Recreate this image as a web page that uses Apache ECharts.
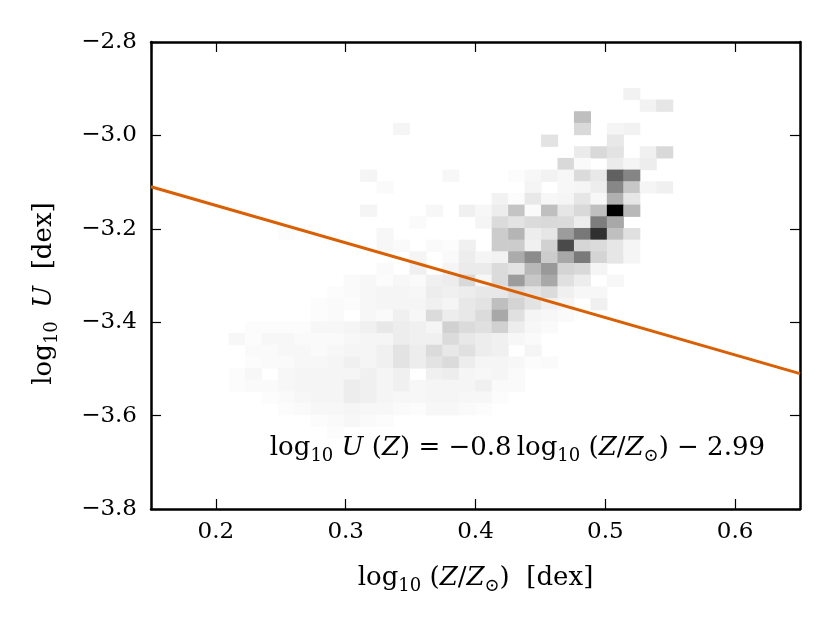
<!DOCTYPE html>
<html>
<head>
<meta charset="utf-8">
<script src="https://cdn.jsdelivr.net/npm/echarts@6/dist/echarts.min.js"></script>
<style>html,body{margin:0;padding:0;background:#fff}#chart{width:831px;height:623px}</style>
</head>
<body>
<div id="chart"></div>
<script>
// ---- 2D histogram (relative counts, max = 100) ----
// bin geometry (data units)
const xEdgeStart = 0.18436;   // left edge of column 0, log10(Z/Zsun)
const xBinWidth = 0.012673;
const yEdgeTop = -2.8482;     // top edge of row 0, log10 U
const yBinHeight = 0.025;
// rows from top (high U) to bottom (low U), 30 columns each
const histCounts = [
  [0,0,0,0,0,0,0,0,0,0, 0,0,0,0,0,0,0,0,0,0, 0,0,0,0,0,0,0,0,0,0],
  [0,0,0,0,0,0,0,0,0,0, 0,0,0,0,0,0,0,0,0,0, 0,0,0,0,0,0,0,0,0,0],
  [0,0,0,0,0,0,0,0,0,0, 0,0,0,0,0,0,0,0,0,0, 0,0,0,0,0,0,5,0,0,0],
  [0,0,0,0,0,0,0,0,0,0, 0,0,0,0,0,0,0,0,0,0, 0,0,0,0,0,0,0,5,10,0],
  [0,0,0,0,0,0,0,0,0,0, 0,0,0,0,0,0,0,0,0,0, 0,0,0,25,0,0,0,0,0,0],
  [0,0,0,0,0,0,0,0,0,0, 0,0,4,0,0,0,0,0,0,0, 0,0,0,15,0,4,5,0,0,0],
  [0,0,0,0,0,0,0,0,0,0, 0,0,0,0,0,0,0,0,0,0, 0,11,0,0,0,9,0,0,0,0],
  [0,0,0,0,0,0,0,0,0,0, 0,0,0,0,0,0,0,0,0,0, 0,0,0,8,15,11,0,6,15,0],
  [0,0,0,0,0,0,0,0,0,0, 0,0,0,0,0,0,0,0,0,0, 0,0,15,2,0,8,4,7,0,0],
  [0,0,0,0,0,0,0,0,0,0, 4,0,0,0,0,3,0,0,0,1, 3,5,3,14,9,62,48,0,0,0],
  [0,0,0,0,0,0,0,0,0,0, 0,2,0,0,0,0,0,0,0,0, 4,0,3,4,7,47,22,4,6,0],
  [0,0,0,0,0,0,0,0,0,0, 0,0,0,0,0,0,0,0,5,1, 9,3,4,10,3,31,10,0,0,0],
  [0,0,0,0,0,0,0,0,0,0, 4,0,0,0,3,0,6,3,7,23, 2,25,10,15,25,100,28,0,0,0],
  [0,0,0,0,0,0,0,0,0,0, 0,0,0,2,0,0,0,4,14,11, 14,15,14,7,51,34,0,0,0,0],
  [0,0,0,0,0,1,0,0,0,0, 0,3,0,0,0,0,0,0,20,29, 7,10,39,53,81,25,12,0,0,0],
  [0,0,0,0,0,0,0,0,0,0, 0,3,2,0,2,1,6,0,20,20, 6,18,71,16,14,10,4,0,0,0],
  [0,0,0,0,0,0,0,0,0,0, 0,0,0,4,0,2,7,4,5,33, 45,20,34,52,17,10,4,0,0,0],
  [0,0,0,0,0,0,0,0,0,0, 0,2,0,6,0,4,8,8,14,11, 28,40,17,15,4,0,0,0,0,0],
  [0,0,0,0,0,0,0,0,0,2, 3,1,3,2,6,7,15,3,14,39, 22,34,12,7,0,3,0,0,0,0],
  [0,0,0,0,0,0,0,0,1,2, 3,4,4,3,7,6,7,9,9,14, 11,14,6,3,3,0,0,0,0,0],
  [0,0,0,0,0,0,0,1,2,1, 3,4,4,4,6,4,9,11,25,17, 11,6,4,0,6,0,0,0,0,0],
  [0,0,0,0,0,0,0,1,2,0, 3,2,6,3,14,7,9,14,34,12, 4,3,2,0,0,0,0,0,0,0],
  [0,0,0,1,1,1,1,3,3,4, 6,9,7,6,4,18,14,12,18,7, 3,2,0,0,0,0,0,0,0,0],
  [0,0,3,1,3,3,2,2,2,3, 4,4,7,6,6,14,9,7,6,3, 2,0,0,0,0,0,0,0,0,0],
  [0,0,0,2,2,3,3,2,3,4, 4,6,11,7,14,9,12,7,6,0, 4,0,0,0,0,0,0,0,0,0],
  [0,0,0,1,2,2,3,3,4,6, 4,6,11,7,11,14,7,4,4,3, 1,2,0,0,0,0,0,0,0,0],
  [0,0,1,3,0,3,4,4,4,4, 6,4,6,0,6,7,4,3,4,2, 0,0,0,0,0,0,0,0,0,0],
  [0,0,1,2,2,3,4,4,4,7, 6,4,6,3,4,4,4,6,2,2, 0,0,0,0,0,0,0,0,0,0],
  [0,0,0,0,1,2,3,4,4,7, 6,4,3,3,4,4,3,3,1,0, 0,0,0,0,0,0,0,0,0,0],
  [0,0,0,0,0,1,2,3,3,4, 3,3,2,1,3,3,2,1,0,0, 0,0,0,0,0,0,0,0,0,0],
  [0,0,0,0,0,0,0,1,2,3, 2,1,0,0,0,0,0,0,0,0, 0,0,0,0,0,0,0,0,0,0],
  [0,0,0,0,0,0,0,0,1,0, 0,0,0,0,0,0,0,0,0,0, 0,0,0,0,0,0,0,0,0,0]
];
const countMax = 100;

// ---- fit line: log10 U(Z) = -0.8 log10(Z/Zsun) - 2.99 ----
const fitX = [0.15, 0.65];
const fitY = [-3.11, -3.51];

// ---- axes ----
const xRange = [0.15, 0.65];
const yRange = [-3.8, -2.8];
const yTickStep = 0.2;

// build histogram cells
const cells = [];
histCounts.forEach((row, r) => {
  row.forEach((v, c) => {
    if (v > 0) cells.push([xEdgeStart + c * xBinWidth, yEdgeTop - r * yBinHeight, v]);
  });
});

const FF = '"DejaVu Serif", "Liberation Serif", serif';
const FS = 23;
const MS = 26;
const rich = {
  n: { fontFamily: FF, fontSize: MS, lineHeight: 34, color: '#000' },
  i: { fontFamily: FF, fontSize: MS, fontStyle: 'italic', lineHeight: 34, color: '#000' },
  s: { fontFamily: FF, fontSize: 18, lineHeight: 18, verticalAlign: 'bottom', color: '#000' }
};
const TS = '\u2009'; // thin space

const chart = echarts.init(document.getElementById('chart'), null, { renderer: 'canvas' });
const fmtMinus = v => (v < 0 ? '\u2212' : '') + Math.abs(v).toFixed(1);
const frame = { show: true, onZero: false, lineStyle: { color: '#000', width: 2.5 } };
const tick = { show: true, inside: true, length: 10, lineStyle: { color: '#000', width: 1.2 } };

chart.setOption({
  animation: false,
  backgroundColor: '#fff',
  grid: { left: 151, right: 31, top: 42, bottom: 114, containLabel: false },
  visualMap: {
    show: false, type: 'continuous', seriesIndex: 0, dimension: 2,
    min: 0, max: countMax, inRange: { color: ['#ffffff', '#000000'] }
  },
  xAxis: [
    {
      type: 'value', min: xRange[0], max: xRange[1], position: 'bottom',
      axisLine: frame, axisTick: tick, splitLine: { show: false },
      axisLabel: { show: true, showMinLabel: false, showMaxLabel: false, margin: 12,
        formatter: v => v.toFixed(1), fontFamily: FF, fontSize: FS, color: '#000' },
      name: '{n|log}{s|10}{n| (}{i|Z}{n|/}{i|Z}{s|\u2299}{n|)  [dex]}',
      nameLocation: 'middle', nameGap: 52,
      nameTextStyle: { rich: rich }
    },
    {
      type: 'value', min: xRange[0], max: xRange[1], position: 'top',
      axisLine: frame, axisTick: tick, splitLine: { show: false }, axisLabel: { show: false }
    }
  ],
  yAxis: [
    {
      type: 'value', min: yRange[0], max: yRange[1], interval: yTickStep, position: 'left',
      axisLine: frame, axisTick: tick, splitLine: { show: false },
      axisLabel: { margin: 14, formatter: fmtMinus, fontFamily: FF, fontSize: FS, color: '#000' },
      name: '{n|log}{s|10}{i| ' + TS + 'U}{n|  [dex]}',
      nameLocation: 'middle', nameGap: 90, nameRotate: 90,
      nameTextStyle: { rich: rich, padding: [0, 36, 0, 0] }
    },
    {
      type: 'value', min: yRange[0], max: yRange[1], interval: yTickStep, position: 'right',
      axisLine: frame, axisTick: tick, splitLine: { show: false }, axisLabel: { show: false }
    }
  ],
  series: [
    {
      type: 'custom',
      xAxisIndex: 0, yAxisIndex: 0,
      data: cells,
      encode: { x: 0, y: 1 },
      clip: true,
      renderItem: function (params, api) {
        const p1 = api.coord([api.value(0), api.value(1)]);
        const p2 = api.coord([api.value(0) + xBinWidth, api.value(1) - yBinHeight]);
        return {
          type: 'rect',
          shape: { x: p1[0], y: p1[1], width: p2[0] - p1[0] + 0.6, height: p2[1] - p1[1] + 0.6 },
          style: { fill: api.visual('color') }
        };
      },
      z: 1
    },
    {
      type: 'line',
      xAxisIndex: 0, yAxisIndex: 0,
      data: fitX.map((x, k) => [x, fitY[k]]),
      symbol: 'none',
      lineStyle: { color: '#d95f02', width: 3 },
      z: 3
    }
  ],
  graphic: [
    {
      type: 'text', right: 66, top: 435, z: 10,
      style: {
        text: '{n|log}{s|10}{i| U}{n| (}{i|Z}{n|) = \u22120.8' + TS + 'log}{s|10}{n| (}{i|Z}{n|/}{i|Z}{s|\u2299}{n|) \u2212 2.99}',
        rich: rich
      }
    }
  ]
});
</script>
</body>
</html>
